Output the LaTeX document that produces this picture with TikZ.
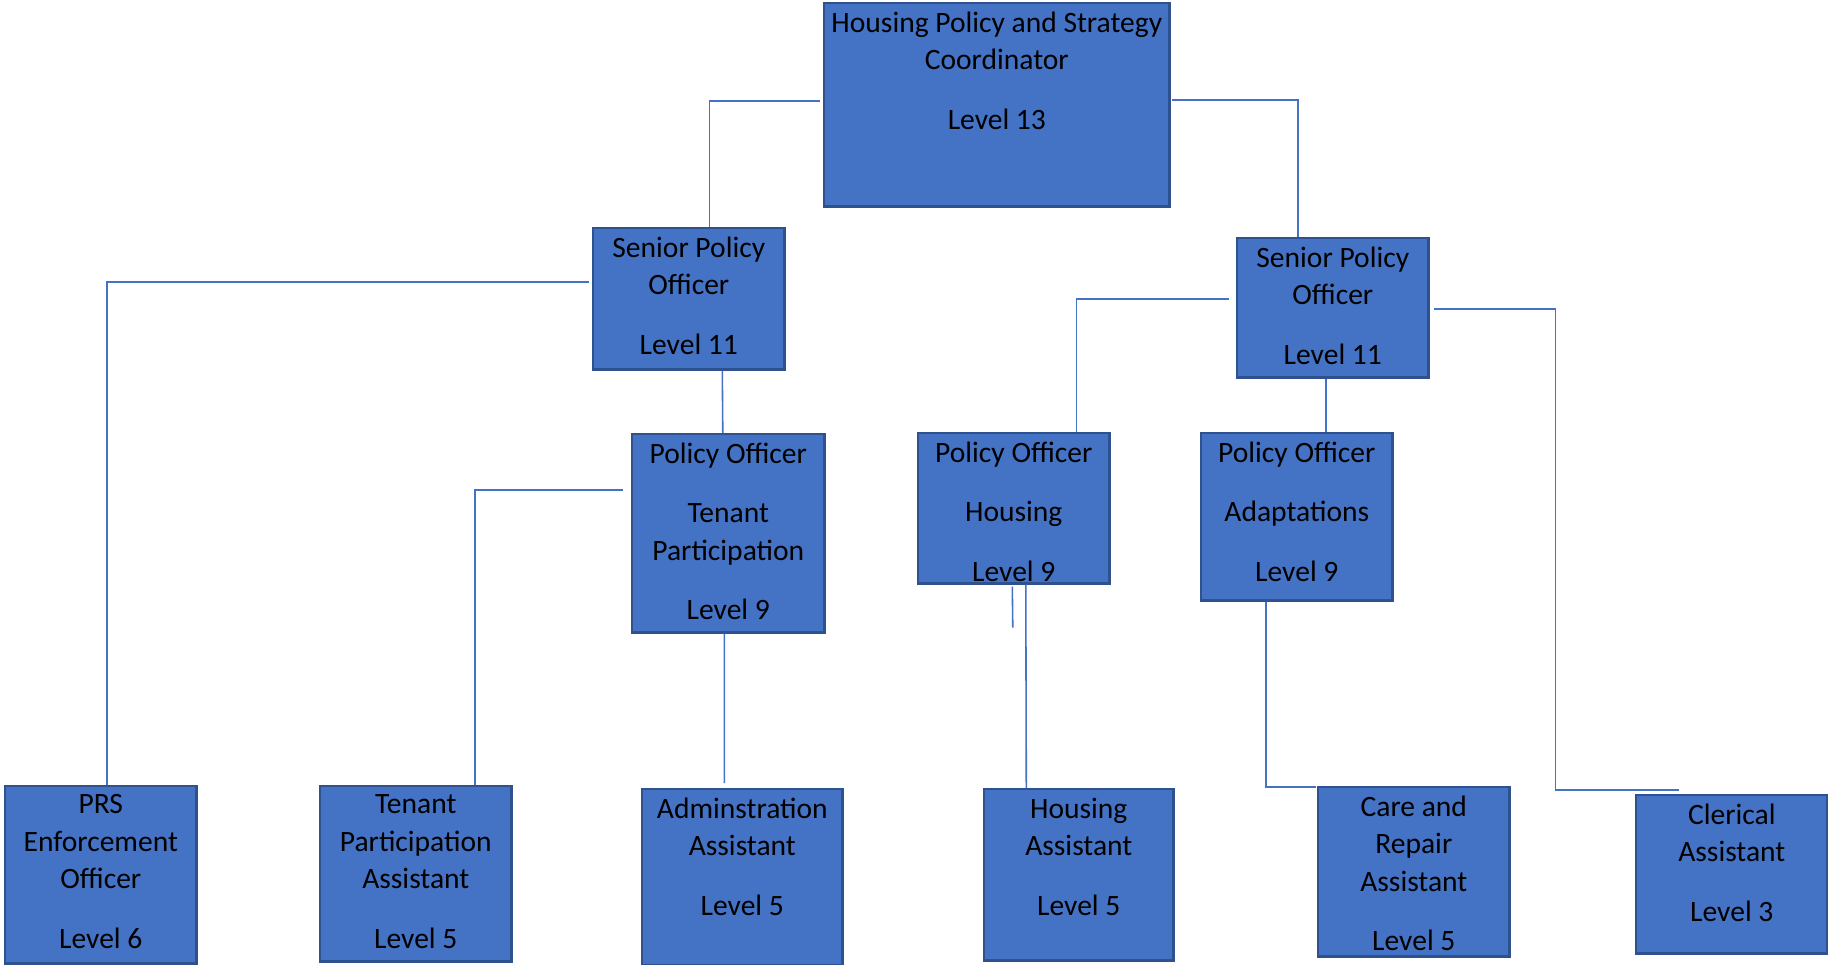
\documentclass[tikz,border=0pt]{standalone}
\usepackage{fontspec}
\setmainfont{Carlito}
\usepackage{tikz}
\usetikzlibrary{positioning, calc}
\definecolor{myblue}{RGB}{68,114,196}
\definecolor{mydarkblue}{RGB}{47,82,143}
\definecolor{mylink}{RGB}{68,114,196}
\newcommand{\postfont}{\fontsize{8.4pt}{10.67pt}\selectfont}
\tikzset{
  post/.style={rectangle, draw=mydarkblue, fill=myblue, line width=0.7pt,
    anchor=north west, inner sep=0pt},
  title/.style={anchor=north, align=center, inner sep=0pt, yshift=-0.09cm,
    font=\postfont, text=black},
  link/.style={line width=0.45pt, color=mylink}
}

\begin{document}
\begin{tikzpicture}[x=0.01cm, y=-0.01cm]
  \path[fill=white, use as bounding box] (0,0) rectangle (1828,964);

  % ── Top level ──────────────────────────────────────────────────────────────
  \node[post, minimum width=3.45cm, minimum height=2.03cm,
    label={[title, name=coordtxt]north:{Housing Policy and Strategy\\Coordinator\\[0.22cm]Level 13}}]
    (coord) at (823,2) {};

  % ── Senior officers ────────────────────────────────────────────────────────
  \node[post, minimum width=1.91cm, minimum height=1.41cm,
    label={[title, name=spoLtxt]north:{Senior Policy\\Officer\\[0.22cm]Level 11}}]
    (spoL) at (592,227) {};
  \node[post, minimum width=1.91cm, minimum height=1.39cm,
    label={[title, name=spoRtxt]north:{Senior Policy\\Officer\\[0.22cm]Level 11}}]
    (spoR) at (1236,237) {};

  % ── Policy officers ────────────────────────────────────────────────────────
  \node[post, minimum width=1.92cm, minimum height=1.98cm,
    label={[title, name=poTtxt]north:{Policy Officer\\[0.22cm]Tenant\\Participation\\[0.22cm]Level 9}}]
    (poT) at (631,433) {};
  \node[post, minimum width=1.91cm, minimum height=1.50cm,
    label={[title, name=poHtxt]north:{Policy Officer\\[0.22cm]Housing\\[0.22cm]Level 9}}]
    (poH) at (917,432) {};
  \node[post, minimum width=1.91cm, minimum height=1.67cm,
    label={[title, name=poAtxt]north:{Policy Officer\\[0.22cm]Adaptations\\[0.22cm]Level 9}}]
    (poA) at (1200,432) {};

  % ── Bottom row ─────────────────────────────────────────────────────────────
  \node[post, minimum width=1.91cm, minimum height=1.77cm,
    label={[title, name=prstxt]north:{PRS\\Enforcement\\Officer\\[0.22cm]Level 6}}]
    (prs) at (4,785) {};
  \node[post, minimum width=1.91cm, minimum height=1.75cm,
    label={[title, name=tpatxt]north:{Tenant\\Participation\\Assistant\\[0.22cm]Level 5}}]
    (tpa) at (319,785) {};
  \node[post, minimum width=2.00cm, minimum height=1.76cm,
    label={[title, name=admtxt]north:{Adminstration\\Assistant\\[0.22cm]Level 5}}]
    (adm) at (641,788) {};
  \node[post, minimum width=1.89cm, minimum height=1.71cm,
    label={[title, name=hsatxt]north:{Housing\\Assistant\\[0.22cm]Level 5}}]
    (hsa) at (983,788) {};
  \node[post, minimum width=1.91cm, minimum height=1.69cm,
    label={[title, name=crptxt]north:{Care and\\Repair\\Assistant\\[0.22cm]Level 5}}]
    (crp) at (1317,786) {};
  \node[post, minimum width=1.91cm, minimum height=1.58cm,
    label={[title, name=clrtxt]north:{Clerical\\Assistant\\[0.22cm]Level 3}}]
    (clr) at (1635,794) {};

  % ── Reporting lines ────────────────────────────────────────────────────────
  \draw[link] ($(coord.west)+(-3,-3.5)$) -| ($(spoL.north)+(20.5,0)$);
  \draw[link] ($(coord.east)+(1,-4.5)$) -| ($(spoR.north)+(-35,0)$);
  \draw[link] ($(spoL.west)+(-3,-16.5)$) -| ($(prs.north)+(6.5,0)$);
  \draw[link] ($(spoL.south)+(33.5,0)$) -- ($(poT.north)+(-5.5,0)$);
  \draw[link] ($(poT.west)+(-8,-43.5)$) -| ($(tpa.north)+(59,0)$);
  \draw[link] ($(poT.south)+(-4,0)$) -- ($(adm.north)+(-18,-5)$);
  \draw[link] ($(spoR.west)+(-7.5,-8.5)$) -| ($(poH.north)+(62.5,0)$);
  \draw[link] ($(spoR.south)+(-7,0)$) -- ($(poA.north)+(29,0)$);
  \draw[link] ($(spoR.east)+(4.5,1.5)$) -| ($(clr.north west)+(-79.5,-4)$)
    -- ($(clr.north west)+(44,-4)$);
  \draw[link] ($(poA.south)+(-31,0)$) |- ($(crp.north west)+(-1,1)$);
  \draw[link] ($(poH.south)+(12,0)$) -- ($(hsa.north)+(-52.5,0)$);
  % stray tick under the housing officer
  \draw[link] ($(poH.south)+(-1.5,2)$) -- ++(0.5,41);
\end{tikzpicture}
\end{document}
